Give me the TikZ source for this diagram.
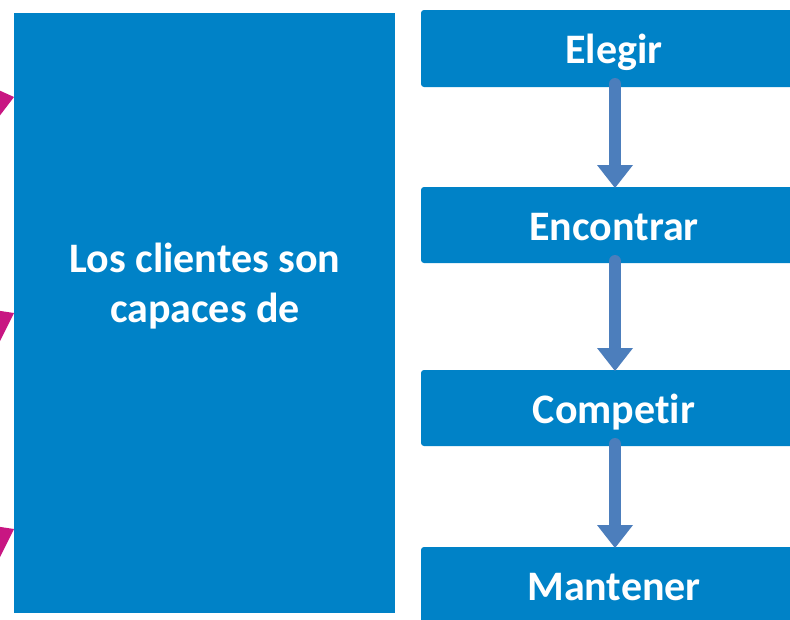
\documentclass[tikz,border=0pt]{standalone}
\usepackage{fontspec}
\setmainfont[Ligatures={NoCommon}]{Carlito}
\usetikzlibrary{calc}
\definecolor{boxblue}{RGB}{0,130,199}
\definecolor{arrowblue}{RGB}{76,126,188}
\definecolor{pinkmag}{RGB}{200,22,130}
\tikzset{
  stepbox/.style={fill=boxblue, rounded corners=3pt},
  boxtext/.style={text=white, font=\fontsize{42}{50}\selectfont\bfseries, inner sep=0pt, anchor=base},
  flowarrow/.style={draw=arrowblue, line width=12pt, line cap=round},
  headtip/.style={fill=arrowblue},
  pointer/.style={fill=pinkmag}
}
\begin{document}
\begin{tikzpicture}[x=1pt,y=-1pt]
\useasboundingbox (0,0) rectangle (790,619);
\clip (0,0) rectangle (790,619);
% big box
\fill[boxblue] (14,13) rectangle (395,613);
\node[boxtext] (big1) at (205,272) {Los clientes son};
\node[boxtext] (big2) at (205,322) {capaces de};
% pointers
\fill[pointer] (-6,88) -- (14,97) -- (-2,118) -- cycle;
\fill[pointer] (-6,310) -- (14,313) -- (-2,345) -- cycle;
\fill[pointer] (-6,526) -- (14,529) -- (-2,561) -- cycle;
% right boxes
\fill[stepbox] (421,10) rectangle (800,87);
\fill[stepbox] (421,187) rectangle (800,263);
\fill[stepbox] (421,370) rectangle (800,446);
\fill[stepbox] (421,547) rectangle (800,624);
\node[boxtext] (b1) at (614,63) {Elegir};
\node[boxtext] (b2) at (614,240) {Encontrar};
\node[boxtext] (b3) at (614,423) {Competir};
\node[boxtext] (b4) at (614,600) {Mantener};
% arrows
\coordinate (a1s) at (615,84); \coordinate (a1e) at (615,166);
\coordinate (a2s) at (615,261); \coordinate (a2e) at (615,349);
\coordinate (a3s) at (615,444); \coordinate (a3e) at (615,526);
\foreach \s/\e in {a1s/a1e,a2s/a2e,a3s/a3e}{
  \draw[flowarrow] (\s) -- (\e);
  \fill[headtip] ($(\e)+(-18,-1)$) -- ($(\e)+(18,-1)$) -- ($(\e)+(0,22)$) -- cycle;
}
\end{tikzpicture}
\end{document}
